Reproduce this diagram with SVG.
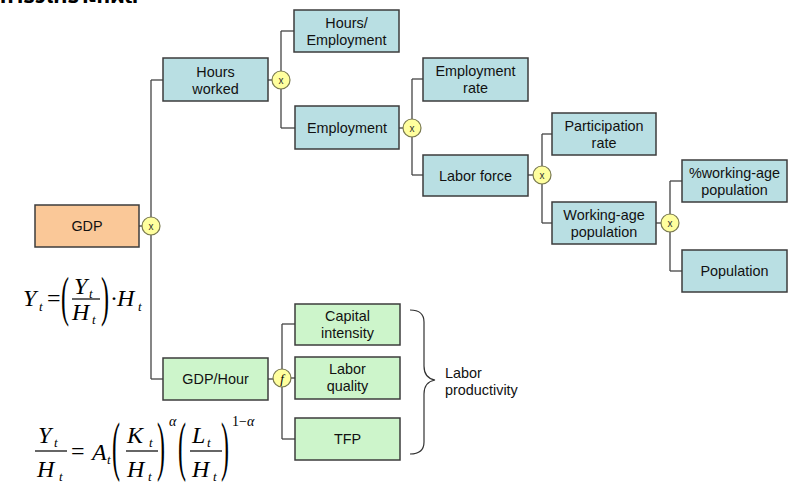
<svg xmlns="http://www.w3.org/2000/svg" width="791" height="488" viewBox="0 0 791 488">
<style>
  .box rect { stroke: #3c3c3c; stroke-width: 1.5; }
  .blue rect { fill: #B9DFE3; }
  .green rect { fill: #CDF5CB; }
  .peach rect { fill: #FAC898; }
  .lbl { font-family: "Liberation Sans", Arial, sans-serif; font-size: 14.4px; fill: #111; text-anchor: middle; }
  .op circle { fill: #FFFF9E; stroke: #7a7a50; stroke-width: 1.2; }
  .op text { font-family: "Liberation Sans", Arial, sans-serif; font-size: 10px; fill: #333; text-anchor: middle; }
  .conn { stroke: #444; stroke-width: 1.3; fill: none; }
  .m { font-family: "Liberation Serif", "Times New Roman", serif; font-style: italic; font-size: 24px; fill: #000; }
  .ms { font-family: "Liberation Serif", "Times New Roman", serif; font-style: italic; font-size: 13px; fill: #000; }
  .mn { font-family: "Liberation Serif", "Times New Roman", serif; font-size: 24px; fill: #000; }
  .frac { stroke: #000; stroke-width: 1.2; }
  .title { font-family: "Noto Sans Thai", "Noto Sans", "DejaVu Sans", sans-serif; font-weight: bold; font-size: 22px; fill: #000; }
</style>

<text class="title" x="0" y="3">การวิเคราะห์ผล</text>

<g id="connectors" class="conn">
  <path d="M139,226 H151"/>
  <path d="M151,80 V379"/>
  <path d="M151,80 H163"/>
  <path d="M151,379 H163"/>
  <path d="M268,80 H281"/>
  <path d="M281,31 V128"/>
  <path d="M281,31 H294"/>
  <path d="M281,128 H295"/>
  <path d="M399,128 H412"/>
  <path d="M412,79 V175"/>
  <path d="M412,79 H423"/>
  <path d="M412,175 H423"/>
  <path d="M528,175 H542"/>
  <path d="M542,134 V223"/>
  <path d="M542,134 H552"/>
  <path d="M542,223 H552"/>
  <path d="M656,223 H670"/>
  <path d="M670,181 V271"/>
  <path d="M670,181 H682"/>
  <path d="M670,271 H682"/>
  <path d="M268,379 H282"/>
  <path d="M282,324 V439"/>
  <path d="M282,324 H295"/>
  <path d="M282,378 H295"/>
  <path d="M282,439 H295"/>
</g>

<g id="gdp" class="box peach">
  <rect x="35" y="205" width="104" height="42"/>
  <text class="lbl" x="87" y="231">GDP</text>
</g>
<g id="op-gdp" class="op"><circle cx="151" cy="226" r="9"/><text x="151" y="229.5">x</text></g>

<g id="hours-worked" class="box blue">
  <rect x="163" y="58" width="105" height="43"/>
  <text class="lbl" x="215.5" y="76.5">Hours</text>
  <text class="lbl" x="215.5" y="94">worked</text>
</g>
<g id="op-hours" class="op"><circle cx="281" cy="80" r="9"/><text x="281" y="83.5">x</text></g>

<g id="hours-employment" class="box blue">
  <rect x="294" y="10" width="105" height="42"/>
  <text class="lbl" x="346.5" y="28">Hours/</text>
  <text class="lbl" x="346.5" y="45">Employment</text>
</g>

<g id="employment" class="box blue">
  <rect x="295" y="106" width="104" height="43"/>
  <text class="lbl" x="347" y="133">Employment</text>
</g>
<g id="op-employment" class="op"><circle cx="412" cy="128" r="9"/><text x="412" y="131.5">x</text></g>

<g id="employment-rate" class="box blue">
  <rect x="423" y="58" width="105" height="43"/>
  <text class="lbl" x="475.5" y="76">Employment</text>
  <text class="lbl" x="475.5" y="93">rate</text>
</g>

<g id="labor-force" class="box blue">
  <rect x="423" y="155" width="105" height="41"/>
  <text class="lbl" x="475.5" y="180.5">Labor force</text>
</g>
<g id="op-labor" class="op"><circle cx="542" cy="175" r="9"/><text x="542" y="178.5">x</text></g>

<g id="participation-rate" class="box blue">
  <rect x="552" y="113" width="104" height="42"/>
  <text class="lbl" x="604" y="131">Participation</text>
  <text class="lbl" x="604" y="148">rate</text>
</g>

<g id="working-age" class="box blue">
  <rect x="552" y="202" width="104" height="42"/>
  <text class="lbl" x="604" y="220">Working-age</text>
  <text class="lbl" x="604" y="237">population</text>
</g>
<g id="op-working" class="op"><circle cx="670" cy="223" r="9"/><text x="670" y="226.5">x</text></g>

<g id="pct-working-age" class="box blue">
  <rect x="682" y="160" width="105" height="42"/>
  <text class="lbl" x="734.5" y="178">%working-age</text>
  <text class="lbl" x="734.5" y="195">population</text>
</g>

<g id="population" class="box blue">
  <rect x="682" y="250" width="105" height="42"/>
  <text class="lbl" x="734.5" y="276">Population</text>
</g>

<g id="gdp-hour" class="box green">
  <rect x="163" y="358" width="105" height="42"/>
  <text class="lbl" x="215.5" y="384">GDP/Hour</text>
</g>
<g id="op-f" class="op"><circle cx="282" cy="378" r="9"/><text x="282" y="382.5" style="font-family:'Liberation Serif',serif;font-style:italic;font-size:13px;fill:#000">f</text></g>

<g id="capital-intensity" class="box green">
  <rect x="295" y="304" width="105" height="41"/>
  <text class="lbl" x="347.5" y="321">Capital</text>
  <text class="lbl" x="347.5" y="338">intensity</text>
</g>
<g id="labor-quality" class="box green">
  <rect x="295" y="357" width="105" height="42"/>
  <text class="lbl" x="347.5" y="374">Labor</text>
  <text class="lbl" x="347.5" y="391">quality</text>
</g>
<g id="tfp" class="box green">
  <rect x="295" y="418" width="105" height="42"/>
  <text class="lbl" x="347.5" y="444">TFP</text>
</g>

<g id="labor-productivity">
  <path d="M410,310 Q424,310 424,322 V366 Q424,378 435,380 Q424,382 424,394 V442 Q424,454 410,454" fill="none" stroke="#333" stroke-width="1.2"/>
  <text class="lbl" x="445" y="378" style="text-anchor:start">Labor</text>
  <text class="lbl" x="445" y="395" style="text-anchor:start">productivity</text>
</g>

<g id="formula1">
  <text class="m" x="23" y="306">Y</text>
  <text class="ms" x="39" y="311">t</text>
  <text class="mn" x="47" y="306">=</text>
  <text class="mn" transform="translate(61,301) scale(1,2.3)" x="0" y="6">(</text>
  <text class="m" x="74" y="294">Y</text>
  <text class="ms" x="89" y="298">t</text>
  <line class="frac" x1="72" y1="299" x2="100" y2="299"/>
  <text class="m" x="72" y="320">H</text>
  <text class="ms" x="92" y="324">t</text>
  <text class="mn" transform="translate(101,301) scale(1,2.3)" x="0" y="6">)</text>
  <text class="mn" x="110" y="306">·</text>
  <text class="m" x="117" y="306">H</text>
  <text class="ms" x="138" y="311">t</text>
</g>

<g id="formula2">
  <text class="m" x="38" y="443">Y</text>
  <text class="ms" x="54" y="447">t</text>
  <line class="frac" x1="35" y1="451" x2="67" y2="451"/>
  <text class="m" x="37" y="477">H</text>
  <text class="ms" x="59" y="481">t</text>
  <text class="mn" x="71" y="459">=</text>
  <text class="m" x="92" y="460">A</text>
  <text class="ms" x="107" y="464">t</text>
  <text class="mn" transform="translate(112,452) scale(1,2.7)" x="0" y="6">(</text>
  <text class="m" x="127" y="443">K</text>
  <text class="ms" x="149" y="447">t</text>
  <line class="frac" x1="126" y1="451" x2="158" y2="451"/>
  <text class="m" x="127" y="477">H</text>
  <text class="ms" x="148" y="481">t</text>
  <text class="mn" transform="translate(157,452) scale(1,2.7)" x="0" y="6">)</text>
  <text class="ms" x="169" y="426" style="font-size:14px">α</text>
  <text class="mn" transform="translate(178,452) scale(1,2.7)" x="0" y="6">(</text>
  <text class="m" x="192" y="443">L</text>
  <text class="ms" x="207" y="447">t</text>
  <line class="frac" x1="190" y1="451" x2="222" y2="451"/>
  <text class="m" x="192" y="477">H</text>
  <text class="ms" x="213" y="481">t</text>
  <text class="mn" transform="translate(221,452) scale(1,2.7)" x="0" y="6">)</text>
  <text class="ms" x="232" y="426" style="font-size:14px;font-style:normal">1−<tspan style="font-style:italic">α</tspan></text>
</g>
</svg>
